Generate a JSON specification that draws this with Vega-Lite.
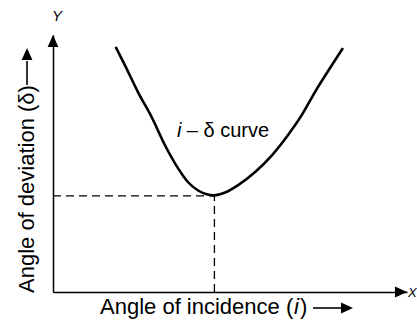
{
  "$schema": "https://vega.github.io/schema/vega-lite/v6.json",
  "width": 354,
  "height": 257,
  "padding": {"left": 53, "top": 35, "right": 10, "bottom": 32},
  "autosize": {"type": "none"},
  "background": "white",
  "config": {"view": {"stroke": null}, "font": "Liberation Sans"},
  "datasets": {
    "curve": [
      {"x": 17.7, "y": 95.4}, {"x": 20.3, "y": 88.3}, {"x": 24.0, "y": 77.8},
      {"x": 28.0, "y": 67.7}, {"x": 31.6, "y": 57.2}, {"x": 35.3, "y": 48.2},
      {"x": 38.1, "y": 42.8}, {"x": 41.0, "y": 39.5}, {"x": 43.2, "y": 38.1},
      {"x": 45.4, "y": 37.6}, {"x": 48.6, "y": 38.7}, {"x": 52.3, "y": 41.6},
      {"x": 57.1, "y": 46.7}, {"x": 61.9, "y": 53.3}, {"x": 66.4, "y": 61.1},
      {"x": 70.3, "y": 68.9}, {"x": 74.0, "y": 77.8}, {"x": 78.8, "y": 88.3},
      {"x": 81.9, "y": 94.9}
    ],
    "guides": [
      {"x": 0, "y": 37.4, "x2": 45.6, "y2": 37.4},
      {"x": 45.6, "y": 0, "x2": 45.6, "y2": 37.4}
    ],
    "shafts": [
      {"x": 73.45, "y": -6.23, "x2": 81.9, "y2": -6.23},
      {"x": -7.34, "y": 80.5, "x2": -7.34, "y2": 89.9}
    ],
    "arrows": [
      {"x": 0, "y": 97.7, "dir": "up"},
      {"x": 98.3, "y": 0, "dir": "right"},
      {"x": 83.05, "y": -6.23, "dir": "right"},
      {"x": -7.34, "y": 92.6, "dir": "up"}
    ],
    "italic": [
      {"x": 35.03, "y": 60.31, "label": "i", "size": 20},
      {"x": 68.08, "y": -8.75, "label": "i", "size": 22},
      {"x": -0.28, "y": 105.4, "label": "Y", "size": 15},
      {"x": 100.3, "y": -1.95, "label": "X", "size": 13}
    ],
    "plain": [
      {"x": 37.8, "y": 60.31, "label": "–", "size": 20, "angle": 0},
      {"x": 42.5, "y": 60.31, "label": "δ curve", "size": 20, "angle": 0},
      {"x": 13.28, "y": -8.75, "label": "Angle of incidence (", "size": 22, "angle": 0},
      {"x": 69.77, "y": -8.75, "label": ")", "size": 22, "angle": 0},
      {"x": -5.37, "y": -0.39, "label": "Angle of deviation (δ)", "size": 22, "angle": 270}
    ]
  },
  "encoding": {
    "x": {
      "field": "x", "type": "quantitative",
      "scale": {"domain": [0, 100], "nice": false, "zero": false},
      "axis": {
        "title": null,
        "domainColor": "black", "domainWidth": 1.5,
        "ticks": false, "labels": false, "grid": false
      }
    },
    "y": {
      "field": "y", "type": "quantitative",
      "scale": {"domain": [0, 100], "nice": false, "zero": false},
      "axis": {
        "title": null,
        "domainColor": "black", "domainWidth": 1.5,
        "ticks": false, "labels": false, "grid": false
      }
    }
  },
  "layer": [
    {
      "data": {"name": "guides"},
      "mark": {"type": "rule", "color": "black", "strokeWidth": 1.3, "strokeDash": [8, 5]},
      "encoding": {"x2": {"field": "x2"}, "y2": {"field": "y2"}}
    },
    {
      "data": {"name": "curve"},
      "mark": {"type": "line", "color": "black", "strokeWidth": 2.6, "interpolate": "monotone"}
    },
    {
      "data": {"name": "shafts"},
      "mark": {"type": "rule", "color": "black", "strokeWidth": 1.6},
      "encoding": {"x2": {"field": "x2"}, "y2": {"field": "y2"}}
    },
    {
      "data": {"name": "arrows"},
      "mark": {"type": "point", "filled": true, "color": "black", "opacity": 1, "size": 144},
      "encoding": {
        "shape": {
          "field": "dir", "type": "nominal",
          "scale": {"domain": ["up", "right"], "range": ["M0,-1L0.9,1L-0.9,1Z", "M1,0L-1,0.9L-1,-0.9Z"]},
          "legend": null
        }
      }
    },
    {
      "data": {"name": "italic"},
      "mark": {"type": "text", "font": "Liberation Sans", "fontStyle": "italic", "align": "left", "baseline": "alphabetic", "color": "black"},
      "encoding": {
        "text": {"field": "label"},
        "size": {"field": "size", "type": "quantitative", "scale": null}
      }
    },
    {
      "data": {"name": "plain"},
      "mark": {"type": "text", "font": "Liberation Sans", "align": "left", "baseline": "alphabetic", "color": "black"},
      "encoding": {
        "text": {"field": "label"},
        "size": {"field": "size", "type": "quantitative", "scale": null},
        "angle": {"field": "angle", "type": "quantitative", "scale": null}
      }
    }
  ]
}
